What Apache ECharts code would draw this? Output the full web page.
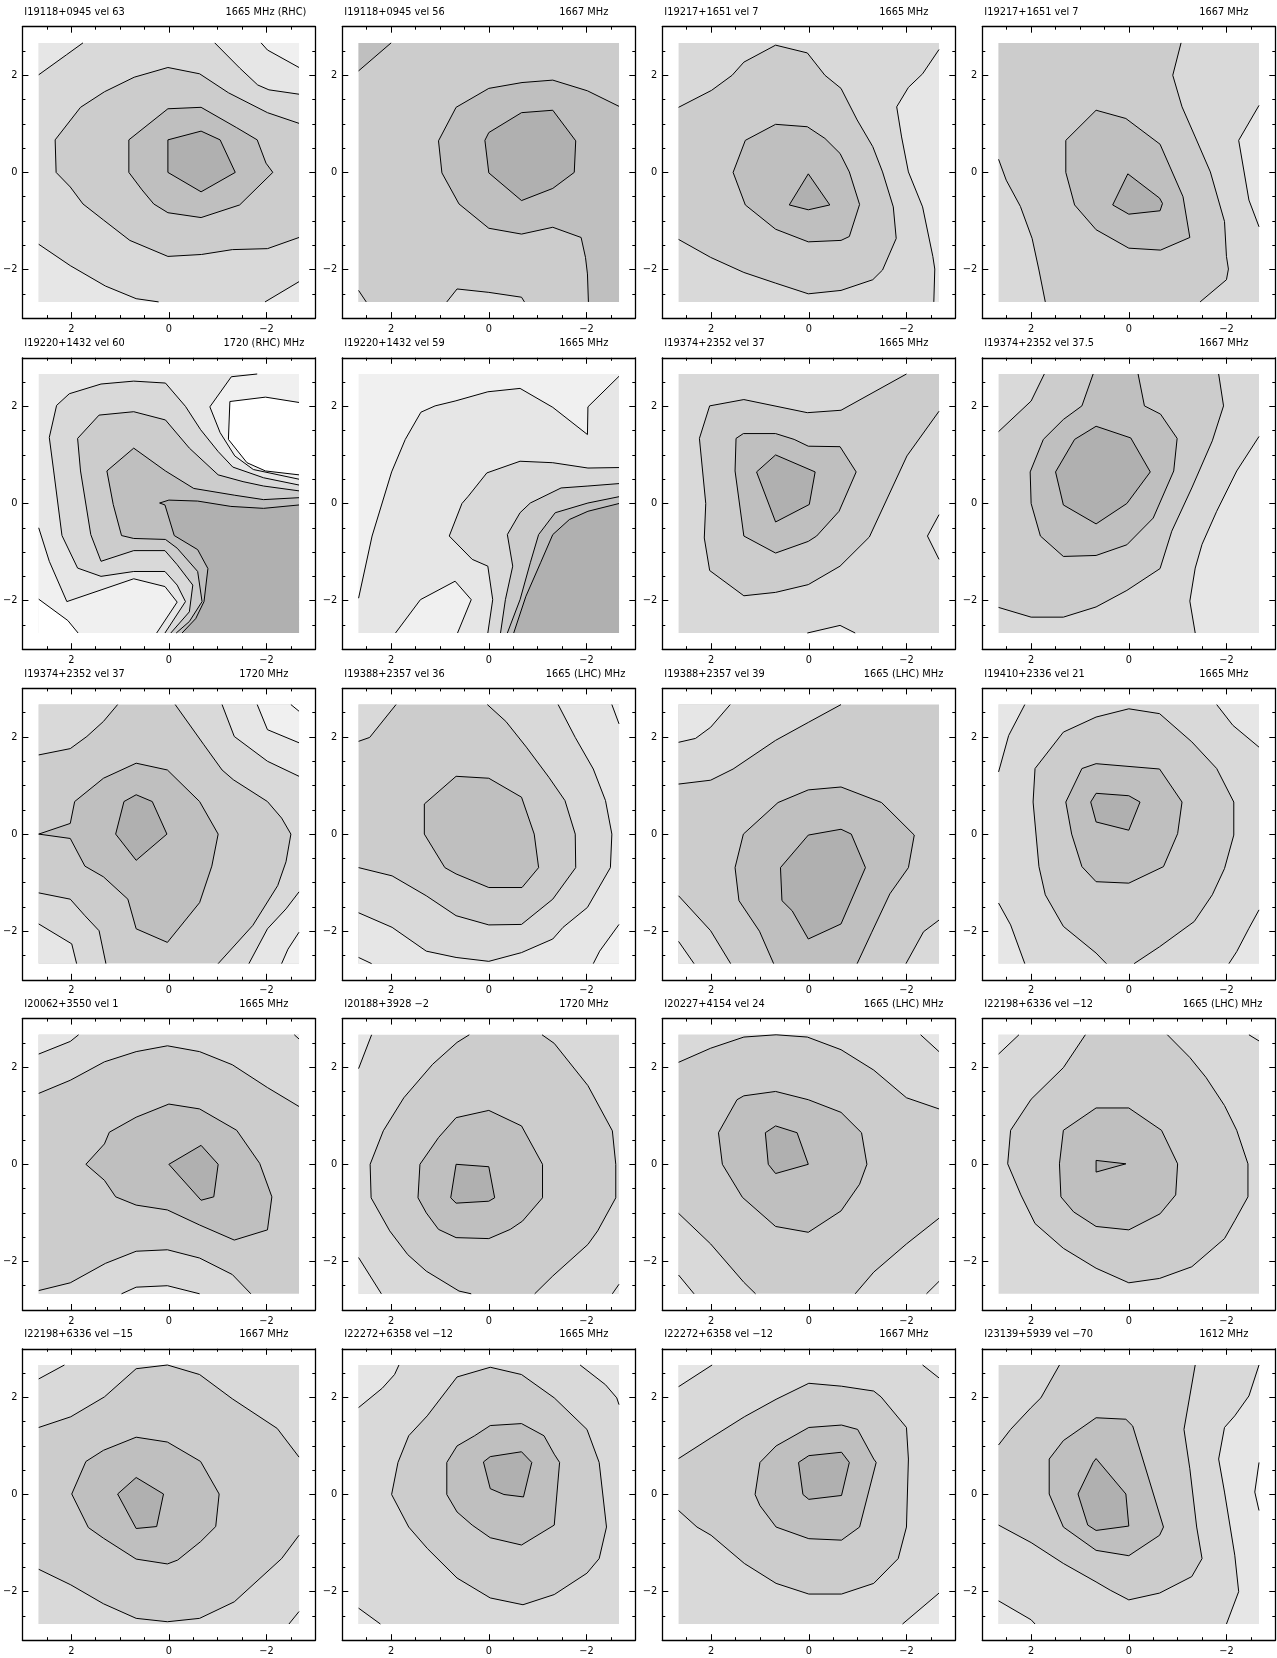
<!DOCTYPE html>
<html><head><meta charset="utf-8">
<script src="https://cdn.jsdelivr.net/npm/echarts@6/dist/echarts.min.js"></script>
<style>html,body{margin:0;padding:0;background:#fff}#chart{width:1277px;height:1658px}</style>
</head><body><div id="chart"></div>
<script>
// ---------------- DATA ----------------
const titles = ["I19118+0945 vel 63","I19118+0945 vel 56","I19217+1651 vel 7","I19217+1651 vel 7",
  "I19220+1432 vel 60","I19220+1432 vel 59","I19374+2352 vel 37","I19374+2352 vel 37.5",
  "I19374+2352 vel 37","I19388+2357 vel 36","I19388+2357 vel 39","I19410+2336 vel 21",
  "I20062+3550 vel 1","I20188+3928 \u22122","I20227+4154 vel 24","I22198+6336 vel \u221212",
  "I22198+6336 vel \u221215","I22272+6358 vel \u221212","I22272+6358 vel \u221212","I23139+5939 vel \u221270"];
const freqs = ["1665 MHz (RHC)","1667 MHz","1665 MHz","1667 MHz",
  "1720 (RHC) MHz","1665 MHz","1665 MHz","1667 MHz",
  "1720 MHz","1665 (LHC) MHz","1665 (LHC) MHz","1665 MHz",
  "1665 MHz","1720 MHz","1665 (LHC) MHz","1665 (LHC) MHz",
  "1667 MHz","1665 MHz","1667 MHz","1612 MHz"];
const tickLabels = [-2, 0, 2];
const baseLevels = [3,4,3,3, 2,1,3,3, 4,4,4,3, 4,3,4,3, 4,3,3,3];

const contour01 = [
 {lv:2, pts:[[2.67,2.01],[2.10,2.42],[1.76,2.67],'TL']},
 {lv:2, pts:[[-0.94,2.67],[-1.45,2.15],[-1.82,1.80],[-2.05,1.70],[-2.67,1.61],'TR']},
 {lv:1, pts:[[-1.89,2.67],[-2.02,2.52],[-2.67,2.16],'TR']},
 {lv:2, pts:[[2.67,-1.48],[2.02,-1.92],[1.30,-2.34],[0.67,-2.60],[0.21,-2.67],'BL']},
 {lv:2, pts:[[-1.97,-2.67],[-2.67,-2.25],'BR']},
 {lv:4, pts:[[-2.67,1.01],[-2.02,1.23],[-1.22,1.64],[-0.63,2.03],[0.02,2.16],[0.71,1.96],[1.32,1.66],[1.81,1.34],[2.33,0.67],[2.31,0.0],[2.02,-0.30],[1.76,-0.65],[1.34,-0.98],[0.80,-1.40],[0.02,-1.73],[-0.67,-1.69],[-1.30,-1.59],[-2.02,-1.57],[-2.67,-1.34]]},
 {lv:5, pts:[[0.02,1.31],[-0.66,1.34],[-1.39,0.92],[-1.81,0.67],[-1.99,0.19],[-2.13,0.0],[-1.45,-0.67],[-0.66,-0.93],[0.02,-0.83],[0.31,-0.65],[0.55,-0.36],[0.82,0.0],[0.82,0.67]]},
 {lv:6, pts:[[0.02,0.67],[-0.66,0.85],[-1.05,0.67],[-1.36,0.0],[-0.66,-0.40],[0.02,0.0]]}
];
const contour02 = [
 {lv:5, pts:[[2.67,2.09],[2.0,2.67],'TL']},
 {lv:5, pts:[[-2.67,1.36],[-2.02,1.68],[-1.31,1.90],[-0.68,1.85],[0.0,1.73],[0.67,1.34],[1.03,0.65],[0.96,-0.01],[0.61,-0.65],[0.0,-1.15],[-0.67,-1.27],[-1.31,-1.13],[-1.89,-1.34],[-1.98,-1.75],[-2.02,-2.09],[-2.04,-2.67],'BR']},
 {lv:6, pts:[[0.08,0.66],[0.0,0.82],[-0.67,1.23],[-1.31,1.28],[-1.78,0.65],[-1.75,0.0],[-1.31,-0.33],[-0.67,-0.58],[0.0,-0.01]]},
 {lv:3, pts:[[0.86,-2.67],[0.65,-2.40],[0.0,-2.47],[-0.67,-2.57],[-0.73,-2.67]]},
 {lv:3, pts:[[2.67,-2.43],[2.51,-2.67],'BL']}
];
const contour03 = [
 {lv:2, pts:[[-2.67,2.53],[-2.33,2.03],[-2.04,1.75],[-1.80,1.35],[-1.90,0.73],[-2.04,0.01],[-2.33,-0.71],[-2.54,-1.73],[-2.58,-1.99],[-2.56,-2.67],'BR']},
 {lv:4, pts:[[2.67,1.34],[1.99,1.69],[1.57,2.0],[1.33,2.27],[0.68,2.62],[0.03,2.46],[-0.33,2.0],[-0.66,1.73],[-0.99,1.08],[-1.31,0.53],[-1.51,0.01],[-1.73,-0.71],[-1.79,-1.36],[-1.51,-2.01],[-1.31,-2.21],[-0.66,-2.43],[0.01,-2.50],[0.68,-2.28],[1.33,-2.06],[2.01,-1.75],[2.67,-1.38]]},
 {lv:5, pts:[[1.30,0.66],[0.68,0.99],[0.03,0.94],[-0.33,0.70],[-0.64,0.39],[-0.83,0.01],[-1.04,-0.66],[-0.83,-1.32],[-0.66,-1.40],[0.01,-1.43],[0.68,-1.17],[1.30,-0.67],[1.55,0.0]]},
 {lv:6, pts:[[0.01,-0.03],[-0.43,-0.67],[0.01,-0.77],[0.40,-0.67]]}
];
const contour04 = [
 {lv:2, pts:[[-2.67,1.38],[-2.25,0.66],[-2.46,-0.57],[-2.67,-1.12]]},
 {lv:4, pts:[[1.71,-2.67],[1.84,-2.01],[1.98,-1.36],[2.22,-0.70],[2.51,-0.16],[2.67,0.27],'TL',[-1.07,2.67],[-0.90,2.0],[-1.09,1.35],[-1.36,0.73],[-1.67,0.01],[-1.96,-1.01],[-2.0,-1.73],[-2.04,-1.99],[-2.0,-2.21],[-1.46,-2.67]]},
 {lv:5, pts:[[1.29,0.66],[0.67,1.28],[0.06,1.11],[-0.64,0.58],[-1.11,-0.50],[-1.25,-1.34],[-0.65,-1.60],[0.0,-1.56],[0.67,-1.18],[1.11,-0.67],[1.29,0.0]]},
 {lv:6, pts:[[0.33,-0.67],[0.02,-0.03],[-0.63,-0.53],[-0.69,-0.64],[-0.64,-0.79],[0.0,-0.86]]}
];
const contour05 = [
 {lv:1, pts:[[-1.81,2.67],[-1.28,2.61],[-0.84,1.99],[-1.05,1.46],[-1.35,0.98],[-1.73,0.70],[-2.67,0.50],'TR']},
 {lv:0, pts:[[-2.67,2.08],[-1.98,2.19],[-1.25,2.10],[-1.22,1.32],[-1.60,0.84],[-1.98,0.67],[-2.67,0.59]]},
 {lv:1, pts:[[2.67,-0.50],[2.45,-1.19],[2.09,-2.02],[1.39,-1.78],[0.72,-1.55],[0.08,-1.71],[-0.17,-2.03],[0.25,-2.67],'BL']},
 {lv:0, pts:[[2.67,-1.97],[2.07,-2.41],[1.86,-2.67],'BL']},
 {lv:3, pts:[[-2.67,0.38],[-1.94,0.53],[-1.31,0.75],[-1.01,1.07],[-0.65,1.52],[-0.34,2.0],[0.07,2.48],[0.72,2.52],[1.39,2.46],[2.04,2.26],[2.30,2.02],[2.45,1.36],[2.36,0.67],[2.19,-0.66],[1.87,-1.33],[1.39,-1.50],[0.72,-1.40],[0.08,-1.40],[-0.17,-1.68],[-0.34,-2.02],[0.08,-2.67],'BR']},
 {lv:4, pts:[[-2.67,0.26],[-1.94,0.36],[-1.52,0.45],[-1.01,0.59],[-0.42,1.14],[0.07,1.72],[0.72,1.89],[1.43,1.82],[1.87,1.34],[1.81,0.67],[1.60,-0.64],[1.39,-1.19],[0.72,-0.97],[0.08,-0.97],[-0.17,-1.26],[-0.49,-1.68],[-0.42,-2.23],[-0.04,-2.67],'BR']},
 {lv:5, pts:[[-2.67,0.12],[-1.94,0.08],[-1.35,0.17],[-0.51,0.31],[0.07,0.67],[0.72,1.14],[1.27,0.67],[1.14,-0.02],[0.97,-0.66],[0.72,-0.72],[0.07,-0.74],[-0.17,-0.92],[-0.59,-1.40],[-0.68,-2.02],[-0.42,-2.43],[-0.15,-2.67],'BR']},
 {lv:6, pts:[[-2.67,-0.03],[-1.94,-0.10],[-1.27,-0.06],[-0.59,0.05],[0.0,0.07],[0.19,0.01],[0.08,-0.03],[-0.11,-0.66],[-0.59,-0.95],[-0.80,-1.34],[-0.72,-2.02],[-0.55,-2.37],[-0.27,-2.67],'BR']}
];
const contour06 = [
 {lv:2, pts:[[2.67,-1.95],[2.39,-0.67],[1.99,0.65],[1.71,1.32],[1.39,1.88],[1.10,2.01],[0.69,2.11],[0.02,2.30],[-0.64,2.37],[-1.31,1.98],[-2.02,1.42],[-2.03,1.99],[-2.67,2.62],'BR','BL']},
 {lv:1, pts:[[1.91,-2.67],[1.40,-1.98],[0.69,-1.60],[0.36,-1.98],[0.64,-2.67]]},
 {lv:3, pts:[[-2.67,0.74],[-2.03,0.73],[-1.31,0.84],[-0.64,0.87],[0.04,0.63],[0.42,0.15],[0.55,0.0],[0.81,-0.67],[0.34,-1.15],[0.02,-1.29],[-0.08,-1.98],[0.02,-2.67],'BR']},
 {lv:4, pts:[[-2.67,0.41],[-2.03,0.36],[-1.48,0.32],[-0.85,0.01],[-0.64,-0.19],[-0.38,-0.64],[-0.49,-1.29],[-0.34,-1.98],[-0.24,-2.67],'BR']},
 {lv:5, pts:[[-2.67,0.14],[-2.03,0.01],[-1.36,-0.19],[-1.02,-0.64],[-0.85,-1.22],[-0.64,-1.98],[-0.38,-2.67],'BR']},
 {lv:6, pts:[[-2.67,0.0],[-2.03,-0.16],[-1.65,-0.33],[-1.31,-0.64],[-1.06,-1.22],[-0.76,-1.91],[-0.51,-2.67],'BR']}
];
const contour07 = [
 {lv:2, pts:[[0.03,-2.67],[-0.64,-2.51],[-0.95,-2.67]]},
 {lv:2, pts:[[-2.67,-0.23],[-2.43,-0.67],[-2.67,-1.15]]},
 {lv:4, pts:[[-2.67,1.90],[-2.01,0.98],[-1.24,-0.69],[-0.64,-1.29],[0.01,-1.67],[0.68,-1.83],[1.33,-1.90],[2.03,-1.38],[2.14,-0.71],[2.11,0.0],[2.24,1.34],[2.03,2.01],[1.33,2.14],[0.03,1.87],[-0.66,1.92],[-2.0,2.67],'TR']},
 {lv:5, pts:[[1.34,1.44],[0.68,1.44],[0.30,1.32],[0.01,1.18],[-0.64,1.17],[-0.97,0.65],[-0.62,-0.16],[-0.16,-0.67],[0.01,-0.78],[0.68,-1.02],[1.33,-0.67],[1.51,0.67],[1.49,1.34]]},
 {lv:6, pts:[[1.07,0.65],[0.68,1.0],[-0.13,0.65],[-0.01,-0.02],[0.68,-0.38]]}
];
const contour08 = [
 {lv:2, pts:[[-2.67,1.38],[-2.21,0.67],[-1.80,-0.16],[-1.50,-0.84],[-1.36,-1.33],[-1.25,-2.01],[-1.36,-2.67],'BR']},
 {lv:4, pts:[[2.67,1.48],[2.0,2.11],[1.73,2.67],[-1.84,2.67],[-1.94,2.01],[-1.71,1.29],[-1.29,0.32],[-0.88,-0.57],[-0.64,-1.34],[0.04,-1.79],[0.67,-2.13],[1.34,-2.34],[2.0,-2.34],[2.67,-2.14]]},
 {lv:5, pts:[[0.73,2.67],[0.96,2.01],[1.34,1.73],[1.75,1.32],[2.02,0.65],[2.0,0.0],[1.81,-0.67],[1.34,-1.09],[0.67,-1.07],[0.04,-0.85],[-0.50,-0.30],[-0.92,0.67],[-0.99,1.34],[-0.65,1.84],[-0.32,2.01],[-0.19,2.67]]},
 {lv:6, pts:[[1.50,0.65],[1.11,1.32],[0.67,1.59],[-0.04,1.35],[-0.44,0.65],[0.04,0.0],[0.67,-0.42],[1.34,-0.03]]}
];
const contour09 = [
 {lv:3, pts:[[2.67,1.63],[2.02,1.76],[1.68,2.01],[1.34,2.32],[1.05,2.67],'TL']},
 {lv:3, pts:[[-0.13,2.67],[-0.71,1.85],[-1.09,1.32],[-1.32,1.12],[-2.02,0.67],[-2.31,0.33],[-2.50,0.0],[-2.40,-0.57],[-2.23,-1.06],[-1.72,-1.88],[-1.01,-2.67],'BR','TR']},
 {lv:2, pts:[[-1.09,2.67],[-1.34,2.01],[-2.02,1.50],[-2.67,1.19],'TR']},
 {lv:1, pts:[[-1.81,2.67],[-2.02,2.15],[-2.67,1.88],'TR']},
 {lv:0, pts:[[-2.50,2.67],[-2.67,2.53],'TR']},
 {lv:2, pts:[[-2.67,-1.19],[-2.40,-1.54],[-2.02,-1.95],[-1.64,-2.67],'BR']},
 {lv:1, pts:[[-2.67,-2.02],[-2.44,-2.37],[-2.31,-2.67],'BR']},
 {lv:3, pts:[[2.67,-1.21],[2.02,-1.34],[1.72,-1.68],[1.43,-1.99],[1.29,-2.67],'BL']},
 {lv:2, pts:[[2.67,-1.85],[1.99,-2.26],[1.89,-2.67],'BL']},
 {lv:5, pts:[[2.67,0.0],[2.02,0.22],[1.93,0.67],[1.34,1.15],[0.67,1.46],[0.03,1.32],[-0.63,0.67],[-1.01,0.0],[-0.88,-0.66],[-0.63,-1.41],[0.03,-2.23],[0.67,-1.95],[0.84,-1.34],[1.34,-0.88],[1.72,-0.66],[2.02,-0.09]]},
 {lv:6, pts:[[1.09,0],[0.92,0.67],[0.67,0.81],[0.34,0.67],[0.04,0],[0.67,-0.54]]}
];
const contour10 = [
 {lv:3, pts:[[2.67,1.91],[2.44,1.99],[1.90,2.67],'TL']},
 {lv:3, pts:[[0.03,2.67],[-0.35,2.32],[-0.77,1.79],[-1.23,1.17],[-1.56,0.69],[-1.77,0.0],[-1.78,-0.69],[-1.31,-1.34],[-0.67,-1.86],[0.0,-1.87],[0.67,-1.68],[1.28,-1.27],[1.98,-0.86],[2.67,-0.69],'BL','BR','TR']},
 {lv:2, pts:[[-1.42,2.67],[-1.77,1.99],[-2.14,1.34],[-2.39,0.69],[-2.52,0.0],[-2.49,-0.69],[-2.02,-1.51],[-1.52,-1.92],[-1.31,-2.16],[-0.67,-2.44],[0.0,-2.62],[0.67,-2.54],[1.28,-2.41],[1.98,-1.92],[2.67,-1.62],'BL','BR','TR']},
 {lv:1, pts:[[-2.52,2.67],[-2.67,2.27],'TR']},
 {lv:1, pts:[[-2.67,-1.86],[-2.27,-2.41],[-2.14,-2.67],'BR']},
 {lv:1, pts:[[2.67,-2.54],[2.40,-2.67],'BL']},
 {lv:5, pts:[[1.32,0.62],[0.67,1.19],[0.0,1.15],[-0.67,0.76],[-0.93,0.0],[-1.02,-0.69],[-0.68,-1.10],[0.0,-1.10],[0.67,-0.82],[0.90,-0.69],[1.32,0.0]]}
];
const contour11 = [
 {lv:3, pts:[[2.67,1.03],[2.01,1.11],[1.55,1.34],[0.68,1.93],[0.01,2.30],[-0.66,2.67],'TL']},
 {lv:2, pts:[[2.67,1.89],[2.32,1.97],[2.01,2.20],[1.61,2.67],'TL']},
 {lv:3, pts:[[2.67,-1.27],[2.01,-1.99],[1.60,-2.67],'BL']},
 {lv:2, pts:[[2.67,-2.21],[2.35,-2.67],'BL']},
 {lv:3, pts:[[-2.67,-1.77],[-2.35,-2.01],[-1.99,-2.67],'BR']},
 {lv:5, pts:[[0.72,-2.67],[1.01,-2.0],[1.43,-1.37],[1.51,-0.69],[1.34,0.0],[0.63,0.65],[0.01,0.91],[-0.66,0.97],[-1.49,0.65],[-2.16,-0.02],[-2.04,-0.69],[-1.66,-1.23],[-1.29,-2.02],[-0.99,-2.67]]},
 {lv:6, pts:[[0.58,-0.69],[0.01,-0.02],[-0.66,0.10],[-0.87,0.0],[-1.16,-0.69],[-0.66,-1.85],[0.01,-2.16],[0.34,-1.58],[0.55,-1.37]]}
];
const contour12 = [
 {lv:2, pts:[[2.13,2.67],[2.46,2.03],[2.67,1.28],'TL']},
 {lv:2, pts:[[-1.80,2.67],[-2.13,2.24],[-2.67,1.79],'TR']},
 {lv:2, pts:[[2.67,-1.42],[2.42,-1.87],[2.13,-2.67],'BL']},
 {lv:2, pts:[[-2.67,-1.56],[-2.46,-1.94],[-2.21,-2.42],[-2.05,-2.67],'BR']},
 {lv:4, pts:[[0.46,-2.67],[0.67,-2.45],[1.34,-1.90],[1.71,-1.25],[1.84,-0.67],[1.96,0.66],[1.92,1.35],[1.34,2.10],[0.67,2.41],[0.0,2.58],[-0.63,2.48],[-1.29,1.90],[-1.80,1.35],[-2.15,0.66],[-2.15,-0.02],[-1.96,-0.71],[-1.71,-1.25],[-1.34,-1.80],[-0.63,-2.32],[-0.11,-2.67]]},
 {lv:5, pts:[[1.29,0.66],[0.96,1.35],[0.67,1.45],[-0.63,1.34],[-1.09,0.66],[-1.00,0.01],[-0.71,-0.67],[0.0,-1.01],[0.67,-0.98],[0.96,-0.67],[1.17,0.0]]},
 {lv:6, pts:[[0.78,0.66],[0.67,0.84],[0.0,0.79],[-0.23,0.66],[0.0,0.08],[0.67,0.25]]}
];
const contour13 = [
 {lv:3, pts:[[2.67,1.46],[2.02,1.73],[1.32,2.11],[0.67,2.32],[0.03,2.44],[-0.63,2.32],[-1.30,2.05],[-2.02,1.58],[-2.67,1.19],'TR','TL']},
 {lv:2, pts:[[2.67,2.27],[2.02,2.53],[1.85,2.67],'TL']},
 {lv:2, pts:[[-2.57,2.67],[-2.67,2.58],'TR']},
 {lv:3, pts:[[2.67,-2.60],[2.02,-2.44],[1.30,-2.04],[0.67,-1.79],[0.03,-1.76],[-0.63,-1.93],[-1.30,-2.27],[-1.68,-2.67],'BL']},
 {lv:2, pts:[[0.97,-2.67],[0.67,-2.53],[0.03,-2.50],[-0.63,-2.67]]},
 {lv:5, pts:[[1.70,0.0],[1.32,0.42],[1.22,0.66],[0.67,0.97],[0.0,1.24],[-0.63,1.14],[-1.39,0.70],[-1.86,0.02],[-2.11,-0.67],[-2.02,-1.35],[-1.34,-1.56],[-0.63,-1.25],[0.03,-0.94],[0.67,-0.84],[1.09,-0.67],[1.32,-0.33]]},
 {lv:6, pts:[[0.0,0.0],[-0.66,0.39],[-1.01,0.0],[-0.92,-0.67],[-0.66,-0.74]]}
];
const contour14 = [
 {lv:2, pts:[[2.67,1.97],[2.40,2.67],'TL']},
 {lv:2, pts:[[2.67,-1.92],[2.20,-2.67],'BL']},
 {lv:2, pts:[[-2.67,-2.47],[-2.53,-2.67],'BR']},
 {lv:4, pts:[[0.40,2.67],[0.65,2.51],[1.15,2.06],[1.74,1.37],[2.16,0.69],[2.43,0.0],[2.41,-0.69],[2.03,-1.37],[1.66,-1.86],[1.28,-2.20],[0.61,-2.61],[0.36,-2.67],[-0.94,-2.67],[-1.31,-2.30],[-2.03,-1.65],[-2.23,-1.37],[-2.60,-0.69],[-2.60,0.0],[-2.53,0.69],[-2.03,1.62],[-1.34,2.49],[-1.09,2.67]]},
 {lv:5, pts:[[1.45,-0.69],[1.41,0.0],[1.03,0.55],[0.67,0.96],[0.0,1.11],[-0.67,0.79],[-1.10,0.0],[-1.10,-0.69],[-0.69,-1.17],[-0.44,-1.34],[0.0,-1.53],[0.67,-1.51],[1.03,-1.34],[1.28,-1.00]]},
 {lv:6, pts:[[0.67,0.0],[0.0,-0.05],[-0.12,-0.69],[0.0,-0.76],[0.67,-0.80],[0.78,-0.69]]}
];
const contour15 = [
 {lv:3, pts:[[2.67,2.10],[2.01,2.39],[1.33,2.62],[0.67,2.64],[0.03,2.62],[-0.66,2.36],[-1.33,1.94],[-2.0,1.37],[-2.67,1.14],'TR','TL']},
 {lv:2, pts:[[-2.29,2.67],[-2.67,2.32],'TR']},
 {lv:3, pts:[[2.67,-1.01],[2.01,-1.64],[1.33,-2.43],[1.09,-2.67],'BL']},
 {lv:2, pts:[[2.67,-2.28],[2.35,-2.67],'BL']},
 {lv:3, pts:[[-0.95,-2.67],[-1.33,-2.22],[-2.0,-1.64],[-2.67,-1.11],'BR']},
 {lv:2, pts:[[-2.41,-2.67],[-2.67,-2.41],'BR']},
 {lv:5, pts:[[1.85,0.65],[1.77,0.0],[1.36,-0.68],[0.68,-1.28],[0.01,-1.40],[-0.66,-0.96],[-1.04,-0.41],[-1.19,0.0],[-1.08,0.65],[-0.66,1.07],[0.01,1.33],[0.68,1.50],[1.33,1.41],[1.47,1.33]]},
 {lv:6, pts:[[0.89,0.65],[0.68,0.79],[0.24,0.65],[0.01,0.0],[0.68,-0.19],[0.83,0.0]]}
];
const contour16 = [
 {lv:2, pts:[[2.67,2.27],[2.25,2.67],'TL']},
 {lv:2, pts:[[-2.46,2.67],[-2.67,2.54],'TR']},
 {lv:4, pts:[[0.89,2.67],[1.34,1.99],[2.0,1.34],[2.42,0.70],[2.48,0.01],[2.21,-0.63],[1.92,-1.22],[1.34,-1.73],[0.67,-2.14],[0.0,-2.44],[-0.63,-2.35],[-1.29,-2.11],[-1.96,-1.53],[-2.17,-1.16],[-2.44,-0.67],[-2.44,0.01],[-2.21,0.70],[-1.96,1.21],[-1.58,1.79],[-1.25,2.20],[-0.79,2.67]]},
 {lv:5, pts:[[1.39,-0.67],[1.42,0.01],[1.34,0.70],[0.67,1.16],[0.0,1.16],[-0.67,0.70],[-1.00,0.01],[-0.96,-0.63],[-0.64,-1.02],[0.0,-1.35],[0.67,-1.28],[1.13,-0.98]]},
 {lv:6, pts:[[0.67,0.08],[0.06,0.01],[0.67,-0.16]]}
];
const contour17 = [
 {lv:3, pts:[[2.67,1.38],[2.01,1.60],[1.32,2.01],[0.67,2.59],[0.03,2.67],[-0.63,2.47],[-1.30,1.97],[-2.22,1.36],[-2.67,0.77],'TR','TL']},
 {lv:2, pts:[[2.67,2.38],[2.14,2.67],'TL']},
 {lv:3, pts:[[-2.67,-0.84],[-2.31,-1.32],[-1.34,-2.21],[-0.63,-2.55],[0.03,-2.62],[0.67,-2.55],[1.34,-2.25],[2.01,-1.86],[2.67,-1.54],'BL','BR']},
 {lv:2, pts:[[-2.67,-2.41],[-2.46,-2.67],'BR']},
 {lv:5, pts:[[1.99,0.01],[1.70,0.68],[1.34,0.91],[0.67,1.18],[0.03,1.08],[-0.65,0.68],[-1.03,0.01],[-0.96,-0.66],[-0.65,-0.97],[-0.18,-1.35],[0.03,-1.43],[0.67,-1.33],[1.34,-0.90],[1.65,-0.68]]},
 {lv:6, pts:[[1.05,0.01],[0.67,0.35],[0.11,0.01],[0.25,-0.66],[0.67,-0.70]]}
];
const contour18 = [
 {lv:2, pts:[[2.67,1.79],[2.18,2.19],[1.93,2.47],[1.84,2.67],'TL']},
 {lv:2, pts:[[-1.87,2.67],[-2.39,2.26],[-2.62,1.99],[-2.67,1.85],'TR']},
 {lv:2, pts:[[2.67,-2.34],[2.22,-2.67],'BL']},
 {lv:4, pts:[[1.99,0.0],[1.86,0.66],[1.64,1.21],[1.26,1.62],[0.65,2.42],[-0.03,2.62],[-0.67,2.47],[-1.34,1.99],[-2.01,1.34],[-2.26,0.66],[-2.41,-0.67],[-2.26,-1.32],[-2.01,-1.62],[-1.34,-2.06],[-0.70,-2.27],[-0.03,-2.13],[0.65,-1.72],[1.26,-1.11],[1.64,-0.67]]},
 {lv:5, pts:[[0.86,0.66],[0.65,1.0],[0.29,1.21],[-0.03,1.42],[-0.67,1.46],[-1.13,1.21],[-1.34,0.83],[-1.45,0.66],[-1.34,-0.63],[-0.67,-1.04],[-0.03,-0.89],[0.34,-0.63],[0.65,-0.36],[0.86,0.0]]},
 {lv:6, pts:[[0.11,0.67],[-0.03,0.78],[-0.67,0.88],[-0.88,0.66],[-0.71,-0.05],[-0.31,0.0],[-0.03,0.12]]}
];
const contour19 = [
 {lv:2, pts:[[2.67,2.22],[1.98,2.67],'TL']},
 {lv:2, pts:[[-2.33,2.67],[-2.67,2.40],'TR']},
 {lv:2, pts:[[-1.92,-2.67],[-2.67,-2.03],'BR']},
 {lv:4, pts:[[2.67,0.74],[2.0,1.17],[1.32,1.60],[0.67,1.96],[0.0,2.29],[-0.67,2.23],[-1.33,2.13],[-1.48,2.01],[-2.0,1.38],[-2.04,0.73],[-2.0,-0.67],[-1.83,-1.32],[-1.33,-1.83],[-0.67,-2.05],[0.0,-2.05],[0.67,-1.83],[1.32,-1.42],[2.0,-0.84],[2.29,-0.67],[2.67,-0.33]]},
 {lv:5, pts:[[1.10,0.0],[1.0,0.66],[0.67,1.0],[0.0,1.38],[-0.67,1.43],[-1.0,1.34],[-1.33,0.73],[-1.38,0.66],[-1.04,-0.67],[-0.67,-0.94],[0.0,-0.91],[0.67,-0.67],[1.0,-0.23]]},
 {lv:6, pts:[[0.21,0.66],[0.0,0.80],[-0.67,0.87],[-0.83,0.66],[-0.67,-0.02],[0.0,-0.10],[0.12,0.0]]}
];
const contour20 = [
 {lv:4, pts:[[2.67,1.02],[2.42,1.34],[2.0,1.79],[1.80,1.99],[1.42,2.67],[-1.36,2.67],[-1.13,1.34],[-1.25,0.53],[-1.39,-0.67],[-1.50,-1.32],[-1.29,-1.69],[-0.63,-2.03],[0.0,-2.17],[0.38,-1.97],[0.67,-1.80],[1.34,-1.42],[2.0,-0.99],[2.67,-0.63]]},
 {lv:2, pts:[[2.67,-2.19],[2.0,-2.58],[1.92,-2.67],'BL']},
 {lv:2, pts:[[-2.65,2.67],[-2.46,2.03],[-2.17,1.62],[-1.96,1.38],[-1.84,0.73],[-1.96,0.05],[-2.17,-1.25],[-2.25,-2.0],[-2.0,-2.67],'BR','TR']},
 {lv:1, pts:[[-2.67,0.66],[-2.58,0.05],[-2.67,-0.33]]},
 {lv:5, pts:[[1.63,0.73],[1.34,1.11],[0.67,1.58],[0.06,1.55],[-0.08,1.41],[-0.71,-0.67],[-0.63,-0.84],[0.0,-1.26],[0.67,-1.15],[1.34,-0.67],[1.63,0.01]]},
 {lv:6, pts:[[1.04,0.01],[0.73,0.66],[0.67,0.74],[0.06,0.01],[0.0,-0.65],[0.67,-0.74],[0.84,-0.63]]}
];
const panels = [contour01,contour02,contour03,contour04,contour05,contour06,contour07,contour08,contour09,contour10,
  contour11,contour12,contour13,contour14,contour15,contour16,contour17,contour18,contour19,contour20];

// ---------------- LAYOUT / STYLE ----------------
const colLeft = [22.3, 342.3, 662.3, 982.3];
const rowTop = [26.7, 357.8, 688.4, 1018.6, 1348.8];
const frameW = 293, frameH = 291.4;
const freqRight = [284,266,266,266, 282,266,266,266, 266,283,281,266, 266,266,281,280, 266,266,266,266];
const levelColors = ['#ffffff','#f0f0f0','#e6e6e6','#d9d9d9','#cccccc','#bfbfbf','#b0b0b0'];
const FONT = '"DejaVu Sans", "Liberation Sans", sans-serif';
const FS = 9.8;

const E = 8 / 3;
const CORNERS = {TL:[E,E], TR:[-E,E], BR:[-E,-E], BL:[E,-E]};
function snap(v){ return (Math.abs(Math.abs(v) - E) < 0.035 || Math.abs(v) > E) ? Math.sign(v) * E : v; }
function resolvePts(pts){ return pts.map(p => typeof p === 'string' ? CORNERS[p].slice() : [snap(p[0]), snap(p[1])]); }
function onBoundary(a,b){ return (a[0]===b[0] && Math.abs(a[0])===E) || (a[1]===b[1] && Math.abs(a[1])===E); }
function strokeParts(ring){
  const n = ring.length, st = [];
  for (let i=0;i<n;i++) st.push(!onBoundary(ring[i], ring[(i+1)%n]));
  if (st.every(s=>s)) return [ring.concat([ring[0]])];
  const start = st.findIndex(s=>!s);
  const parts = []; let cur = null;
  for (let k=1;k<=n;k++){
    const i = (start+k)%n;
    if (st[i]) { if(!cur) cur=[ring[i]]; cur.push(ring[(i+1)%n]); }
    else if (cur) { parts.push(cur); cur=null; }
  }
  if (cur) parts.push(cur);
  return parts;
}
const fmt = v => v < 0 ? '\u2212' + (-v) : String(v);

const grids = [], xAxes = [], yAxes = [], series = [], graphics = [];
panels.forEach((regsRaw, g) => {
  const col = g % 4, row = Math.floor(g / 4);
  const L = colLeft[col], T = rowTop[row];
  grids.push({left:L, top:T, width:frameW, height:frameH});
  const baseX = {type:'value', gridIndex:g, min:-3, max:3, inverse:true, splitLine:{show:false}, z:5};
  const baseY = {type:'value', gridIndex:g, min:-3, max:3, splitLine:{show:false}, z:5};
  const line = {show:true, onZero:false, lineStyle:{color:'#000', width:1.3}};
  const noLine = {show:false, onZero:false};
  const minorTick = {show:true, inside:true, length:3, lineStyle:{color:'#000', width:1}};
  const majorTick = {show:true, inside:true, length:6, customValues:tickLabels, lineStyle:{color:'#000', width:1}};
  const lab = {show:true, customValues:tickLabels, formatter:fmt, color:'#000', fontSize:FS, fontFamily:FONT};
  xAxes.push(Object.assign({}, baseX, {position:'bottom', interval:0.5, axisLine:line, axisTick:minorTick, axisLabel:Object.assign({margin:6}, lab)}));
  xAxes.push(Object.assign({}, baseX, {position:'top', interval:0.5, axisLine:line, axisTick:minorTick, axisLabel:{show:false}}));
  xAxes.push(Object.assign({}, baseX, {position:'bottom', axisLine:noLine, axisTick:majorTick, axisLabel:{show:false}}));
  xAxes.push(Object.assign({}, baseX, {position:'top', axisLine:noLine, axisTick:majorTick, axisLabel:{show:false}}));
  yAxes.push(Object.assign({}, baseY, {position:'left', interval:0.5, axisLine:line, axisTick:minorTick, axisLabel:Object.assign({margin:5}, lab)}));
  yAxes.push(Object.assign({}, baseY, {position:'right', interval:0.5, axisLine:line, axisTick:minorTick, axisLabel:{show:false}}));
  yAxes.push(Object.assign({}, baseY, {position:'left', axisLine:noLine, axisTick:majorTick, axisLabel:{show:false}}));
  yAxes.push(Object.assign({}, baseY, {position:'right', axisLine:noLine, axisTick:majorTick, axisLabel:{show:false}}));

  const regs = [{lv:baseLevels[g], pts:['TL','TR','BR','BL']}].concat(regsRaw).map(r => ({lv:r.lv, ring:resolvePts(r.pts)}));
  const data = regs.map(() => [0, 0]);
  series.push({
    type:'custom', coordinateSystem:'cartesian2d', xAxisIndex:4*g, yAxisIndex:4*g, silent:true, animation:false, z:2,
    data:data,
    renderItem:(params, api) => {
      const r = regs[params.dataIndex];
      return {type:'polygon', shape:{points:r.ring.map(p => api.coord(p))}, style:{fill:levelColors[r.lv], lineWidth:0}};
    }
  });
  series.push({
    type:'custom', coordinateSystem:'cartesian2d', xAxisIndex:4*g, yAxisIndex:4*g, silent:true, animation:false, z:3,
    data:data,
    renderItem:(params, api) => {
      const r = regs[params.dataIndex];
      const parts = strokeParts(r.ring);
      return {type:'group', children:parts.map(pp => ({type:'polyline', shape:{points:pp.map(p => api.coord(p))}, style:{stroke:'#000', lineWidth:1, fill:null}}))};
    }
  });
  graphics.push({type:'text', x:L + 2, y:T - 14, silent:true, style:{text:titles[g], fill:'#000', font:FS + 'px ' + FONT, align:'left', verticalAlign:'middle'}});
  graphics.push({type:'text', x:L + freqRight[g], y:T - 14, silent:true, style:{text:freqs[g], fill:'#000', font:FS + 'px ' + FONT, align:'right', verticalAlign:'middle'}});
});

const chart = echarts.init(document.getElementById('chart'), null, {renderer:'canvas'});
chart.setOption({animation:false, backgroundColor:'#fff', grid:grids, xAxis:xAxes, yAxis:yAxes, series:series, graphic:graphics});
</script></body></html>
